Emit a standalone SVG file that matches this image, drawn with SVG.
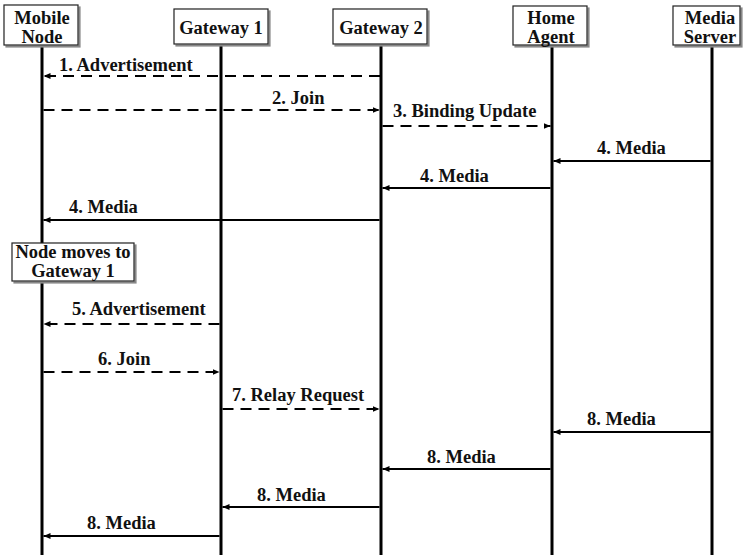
<svg xmlns="http://www.w3.org/2000/svg" width="744" height="555" viewBox="0 0 744 555">
<defs>
<marker id="ah" markerUnits="userSpaceOnUse" markerWidth="8" markerHeight="7" refX="7" refY="3" orient="auto">
<path d="M0,0 L7,3 L0,6 z" fill="#000"/>
</marker>
<filter id="sh" x="-10%" y="-10%" width="130%" height="140%">
<feOffset dx="2" dy="2" in="SourceAlpha" result="o"/>
<feFlood flood-color="#888"/>
<feComposite in2="o" operator="in"/>
<feMerge><feMergeNode/><feMergeNode in="SourceGraphic"/></feMerge>
</filter>
</defs>
<style>
text{font-family:"Liberation Serif","Times New Roman",serif;font-weight:bold;font-size:18.5px;fill:#111}
.hd{text-anchor:middle}
.box{fill:#fff;stroke:#222;stroke-width:1.2;filter:url(#sh)}
.life{stroke:#000;stroke-width:3}
.msg{stroke:#000;stroke-width:2.2;fill:none;marker-end:url(#ah)}
.dash{stroke-dasharray:11 7}
</style>
<rect width="744" height="555" fill="#fff"/>
<g id="lifelines">
<line class="life" x1="42" y1="45" x2="42" y2="555"/>
<line class="life" x1="221" y1="44" x2="221" y2="555"/>
<line class="life" x1="381" y1="44" x2="381" y2="555"/>
<line class="life" x1="552" y1="45" x2="552" y2="555"/>
<line class="life" x1="712" y1="45" x2="712" y2="555"/>
</g>
<g id="mobile-node">
<rect class="box" x="4" y="5" width="74" height="40"/>
<text class="hd" x="42" y="24">Mobile</text>
<text class="hd" x="42" y="43">Node</text>
</g>
<g id="gateway-1">
<rect class="box" x="174" y="9" width="94" height="35"/>
<text class="hd" x="221" y="34">Gateway 1</text>
</g>
<g id="gateway-2">
<rect class="box" x="333" y="9" width="94" height="35"/>
<text class="hd" x="381" y="34">Gateway 2</text>
</g>
<g id="home-agent">
<rect class="box" x="513" y="6" width="74" height="39"/>
<text class="hd" x="551" y="24">Home</text>
<text class="hd" x="551" y="43">Agent</text>
</g>
<g id="media-server">
<rect class="box" x="673" y="6" width="67" height="39"/>
<text class="hd" x="710" y="24">Media</text>
<text class="hd" x="710" y="43">Server</text>
</g>
<g id="note-moves">
<rect class="box" x="12" y="243" width="122" height="38"/>
<text class="hd" x="73" y="258">Node moves to</text>
<text class="hd" x="73" y="277">Gateway 1</text>
</g>
<g id="connectors">
<line class="msg dash" x1="380" y1="76" x2="43.5" y2="76"/>
<line class="msg dash" x1="43.5" y1="110" x2="379.5" y2="110"/>
<line class="msg dash" x1="382.5" y1="126" x2="550.5" y2="126"/>
<line class="msg" x1="710.5" y1="161" x2="553.5" y2="161"/>
<line class="msg" x1="550.5" y1="188" x2="382.5" y2="188"/>
<line class="msg" x1="379.5" y1="220" x2="43.5" y2="220"/>
<line class="msg dash" x1="219.5" y1="324" x2="43.5" y2="324"/>
<line class="msg dash" x1="43.5" y1="372" x2="219.5" y2="372"/>
<line class="msg dash" x1="222.5" y1="409" x2="379.5" y2="409"/>
<line class="msg" x1="710.5" y1="432" x2="553.5" y2="432"/>
<line class="msg" x1="550.5" y1="469" x2="382.5" y2="469"/>
<line class="msg" x1="379.5" y1="507" x2="222.5" y2="507"/>
<line class="msg" x1="219.5" y1="536" x2="43.5" y2="536"/>
</g>
<g id="labels">
<text x="59" y="71">1. Advertisement</text>
<text x="272" y="104">2. Join</text>
<text x="393" y="117">3. Binding Update</text>
<text x="597" y="154">4. Media</text>
<text x="420" y="182">4. Media</text>
<text x="69" y="213">4. Media</text>
<text x="72" y="315">5. Advertisement</text>
<text x="98" y="365">6. Join</text>
<text x="232" y="401">7. Relay Request</text>
<text x="587" y="425">8. Media</text>
<text x="427" y="463">8. Media</text>
<text x="257" y="501">8. Media</text>
<text x="87" y="529">8. Media</text>
</g>
</svg>
